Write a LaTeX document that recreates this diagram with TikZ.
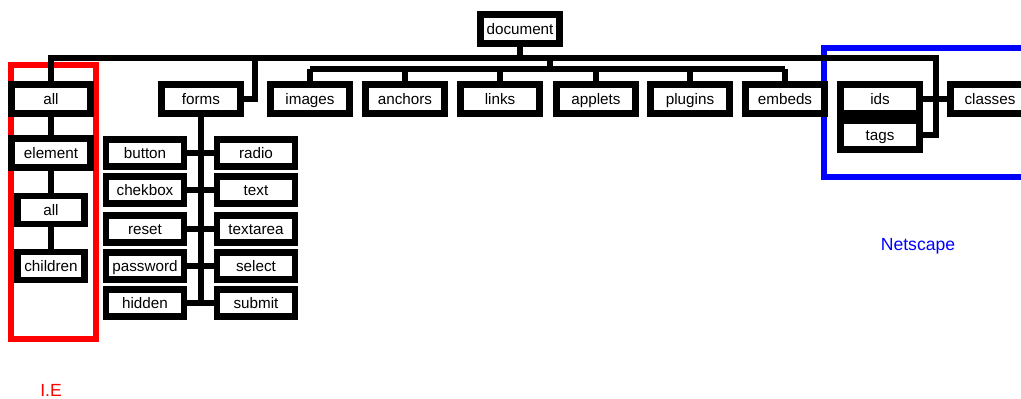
\documentclass[tikz,border=0pt]{standalone}
\usepackage{fontspec}
\setmainfont{Liberation Sans}
\definecolor{iered}{RGB}{255,0,0}
\definecolor{nsblue}{RGB}{0,0,255}

\begin{document}
\begin{tikzpicture}[
  x=0.03cm, y=-0.03cm,
  font=\fontsize{13}{15}\selectfont,
  wire/.style={line width=5.6pt},
  box/.style={draw, line width=5.6pt, fill=white, inner sep=0pt, text height=10pt, text depth=1pt,
    minimum width=2.37cm, minimum height=0.87cm},
  formbox/.style={box, minimum width=2.34cm, minimum height=0.81cm},
  subbox/.style={box, minimum width=2.01cm, minimum height=0.84cm},
  frame/.style={line width=5.6pt},
  tag/.style={font=\fontsize{15}{18}\selectfont}
]
\useasboundingbox (0,0) rectangle (1021,399);
\clip (0,0) rectangle (1021,399);

% Browser frames
\draw[frame, draw=iered] (11,65) rectangle (96,339);
\draw[frame, draw=nsblue] (824,48) rectangle (1040,177);
\node[tag, text=iered] (ie) at (51,390) {I.E};
\node[tag, text=nsblue] (ns) at (918,246) {Netscape};

% Top node and buses
\node[box] (doc) at (520,29) {document};
\coordinate (busR) at (936,58);
\coordinate (formsdrop) at (255,58);
\coordinate (bus2) at (550,69);

% Left column
\node[box] (all) at (51,99) {all};
\node[box] (element) at (51,153) {element};
\node[subbox] (allsub) at (51,210) {all};
\node[subbox] (children) at (51,266) {children};

\node[box] (forms) at (201,99) {forms};

\foreach \x/\name in {310/images,405/anchors,500/links,596/applets,690/plugins,785/embeds}{
  \node[box] (\name) at (\x,99) {\name};
  \draw[wire] (\name.north) -- (\name |- bus2);
}

% Netscape only
\node[box] (ids) at (880,99) {ids};
\node[box] (tags) at (880,135) {tags};
\node[box] (classes) at (990,99) {classes};

% Form elements
\foreach \y/\l/\r in {153/button/radio,190/chekbox/text,229/reset/textarea,266/password/select,303/hidden/submit}{
  \node[formbox] (\l) at (145,\y) {\l};
  \node[formbox] (\r) at (256,\y) {\r};
  \draw[wire] (\l.east) -- (\r.west);
}

% Connectors
\draw[wire] (all.north) |- (busR) |- (tags.east);
\draw[wire] (doc.south) -- (doc |- busR);
\draw[wire] (forms.east) -| (formsdrop);
\draw[wire] (bus2) -- (bus2 |- busR);
\draw[wire] (images.north |- bus2) -- (embeds.north |- bus2);
\draw[wire] (ids.east) -- (classes.west);
\draw[wire] (all) -- (element) -- (allsub) -- (children);
\draw[wire] (forms.south) -- (forms |- hidden);

\end{tikzpicture}
\end{document}
